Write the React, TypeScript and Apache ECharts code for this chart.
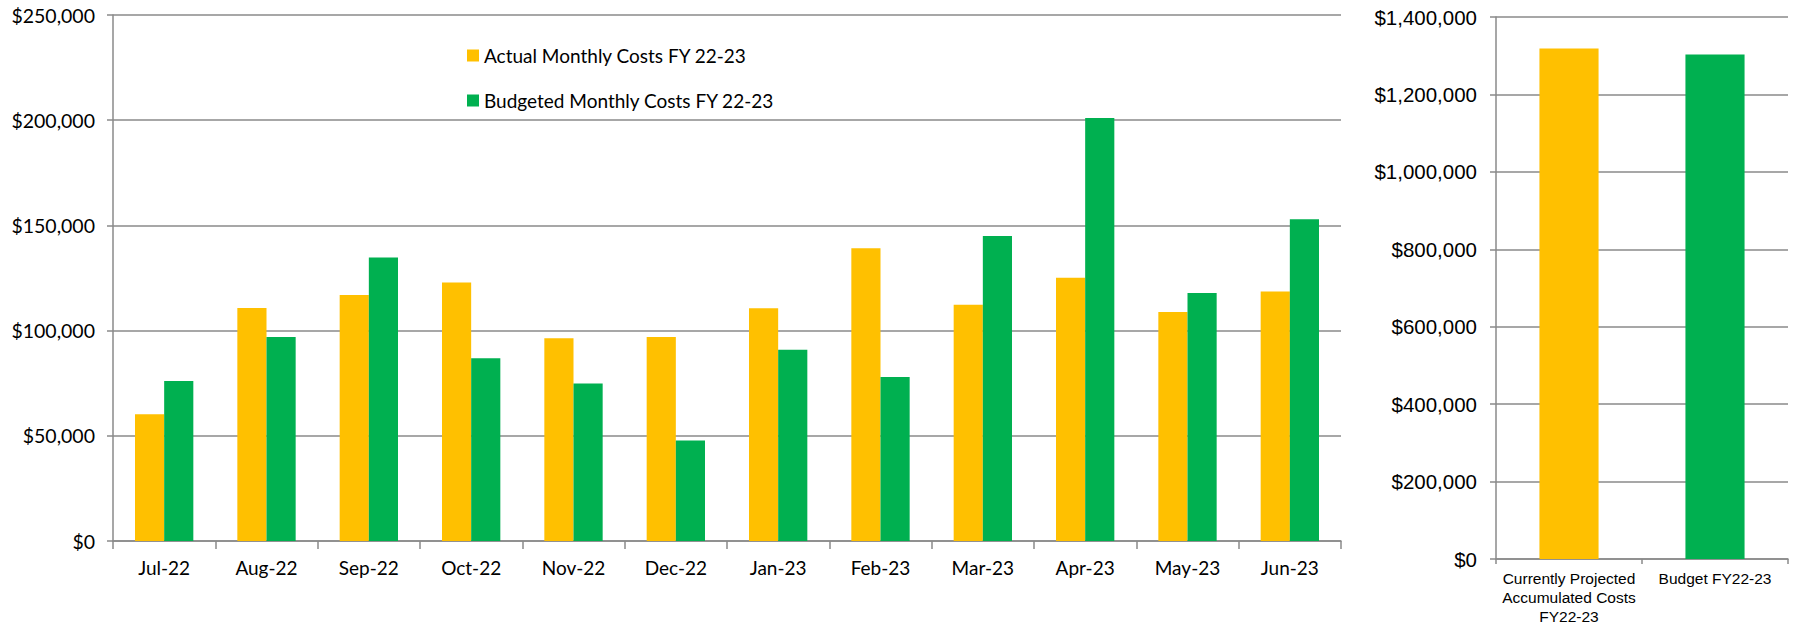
import React, { useEffect, useRef } from "react";
import * as echarts from "echarts";

const months = ["Jul-22", "Aug-22", "Sep-22", "Oct-22", "Nov-22", "Dec-22", "Jan-23", "Feb-23", "Mar-23", "Apr-23", "May-23", "Jun-23"];
const actualMonthly = [60300, 110700, 116900, 122900, 96400, 96900, 110600, 139100, 112300, 125100, 108800, 118600];
const budgetedMonthly = [76000, 96900, 134800, 86900, 74900, 47800, 90900, 77900, 145000, 201100, 117900, 152900];
const seriesNames = ["Actual Monthly Costs FY 22-23", "Budgeted Monthly Costs FY 22-23"];
const totalCategories = ["Currently Projected\nAccumulated Costs\nFY22-23", "Budget FY22-23"];
const totalValues = [1318400, 1302900];
const leftAxisMax = 250000;
const leftAxisStep = 50000;
const rightAxisMax = 1400000;
const rightAxisStep = 200000;

const YELLOW = "#FFC000";
const GREEN = "#00B050";
const GRID_GRAY = "#8a8a8a";

const money = (v: number) => "$" + Math.round(v).toLocaleString("en-US");

export default function App() {
  const ref = useRef<HTMLDivElement>(null);
  useEffect(() => {
    if (!ref.current) return;
    const chart = echarts.init(ref.current, null, { renderer: "svg" });
    const lineStyle = { color: GRID_GRAY, width: 1.5 };
    const leftFont = { fontFamily: "Lato", fontSize: 19.5, color: "#000" };
    const rightFont = { fontFamily: "Liberation Sans", color: "#000" };
    chart.setOption({
      animation: false,
      backgroundColor: "#fff",
      legend: {
        orient: "vertical",
        left: 462,
        top: 41,
        itemWidth: 12,
        itemHeight: 12,
        itemGap: 26,
        icon: "rect",
        data: seriesNames,
        textStyle: { ...leftFont, fontSize: 19 },
      },
      grid: [
        { left: 113, top: 15, width: 1228, height: 526, containLabel: false },
        { left: 1496, top: 17, width: 292, height: 544, containLabel: false },
      ],
      xAxis: [
        {
          type: "category",
          gridIndex: 0,
          data: months,
          axisLine: { lineStyle },
          axisTick: { show: true, length: 8, lineStyle },
          axisLabel: { ...leftFont, fontSize: 19, margin: 17, interval: 0 },
        },
        {
          type: "category",
          gridIndex: 1,
          data: totalCategories,
          axisLine: { lineStyle },
          axisTick: { show: true, length: 5, lineStyle },
          axisLabel: { ...rightFont, fontSize: 15.5, lineHeight: 19, margin: 10, interval: 0, align: "center" },
        },
      ],
      yAxis: [
        {
          type: "value",
          gridIndex: 0,
          min: 0,
          max: leftAxisMax,
          interval: leftAxisStep,
          axisLine: { show: true, lineStyle },
          axisTick: { show: true, length: 6, lineStyle },
          splitLine: { show: true, lineStyle },
          axisLabel: { ...leftFont, margin: 18, formatter: money },
        },
        {
          type: "value",
          gridIndex: 1,
          min: 0,
          max: rightAxisMax,
          interval: rightAxisStep,
          axisLine: { show: true, lineStyle },
          axisTick: { show: true, length: 6, lineStyle },
          splitLine: { show: true, lineStyle },
          axisLabel: { ...rightFont, fontSize: 20.5, margin: 19, formatter: money },
        },
      ],
      series: [
        {
          name: seriesNames[0],
          type: "bar",
          xAxisIndex: 0,
          yAxisIndex: 0,
          data: actualMonthly,
          itemStyle: { color: YELLOW },
          barGap: "0%",
          barCategoryGap: "43%",
        },
        {
          name: seriesNames[1],
          type: "bar",
          xAxisIndex: 0,
          yAxisIndex: 0,
          data: budgetedMonthly,
          itemStyle: { color: GREEN },
          barGap: "0%",
          barCategoryGap: "43%",
        },
        {
          name: "Totals",
          type: "bar",
          xAxisIndex: 1,
          yAxisIndex: 1,
          data: totalValues.map((v, i) => ({ value: v, itemStyle: { color: i === 0 ? YELLOW : GREEN } })),
          barCategoryGap: "59.5%",
        },
      ],
    });
    return () => chart.dispose();
  }, []);
  return (
    <div
      ref={ref}
      style={{ position: "fixed", left: 0, top: 0, width: 1798, height: 626, background: "#fff" }}
    />
  );
}
